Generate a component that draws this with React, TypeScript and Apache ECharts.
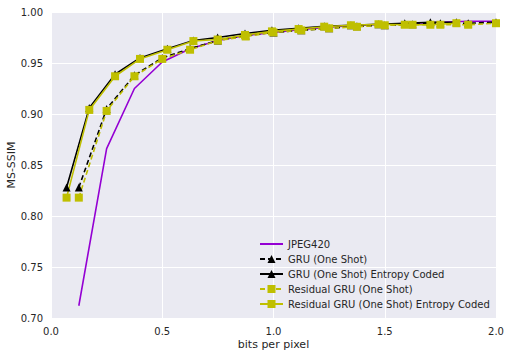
import React, { useEffect, useRef } from "react";
import * as echarts from "echarts";

const xTicks = [0.0, 0.5, 1.0, 1.5, 2.0];
const yTicks = [0.7, 0.75, 0.8, 0.85, 0.9, 0.95, 1.0];

const seriesNames = [
  "JPEG420",
  "GRU (One Shot)",
  "GRU (One Shot) Entropy Coded",
  "Residual GRU (One Shot)",
  "Residual GRU (One Shot) Entropy Coded",
];

const oneShotBpp = [0.125, 0.25, 0.375, 0.5, 0.625, 0.75, 0.875, 1.0, 1.125, 1.25, 1.375, 1.5, 1.625, 1.75, 1.875, 2.0];
const entropyBpp = [0.07, 0.172, 0.288, 0.4, 0.523, 0.64, 0.749, 0.872, 0.993, 1.113, 1.228, 1.348, 1.472, 1.59, 1.705, 1.822];

const jpegY = [0.712, 0.866, 0.925, 0.951, 0.964, 0.972, 0.977, 0.980, 0.983, 0.985, 0.987, 0.988, 0.989, 0.990, 0.991, 0.991];
const gruY = [0.828, 0.905, 0.938, 0.955, 0.964, 0.972, 0.977, 0.980, 0.982, 0.984, 0.986, 0.987, 0.988, 0.989, 0.989, 0.990];
const gruEcY = [0.828, 0.906, 0.939, 0.955, 0.964, 0.972, 0.975, 0.979, 0.982, 0.984, 0.986, 0.987, 0.988, 0.989, 0.990, 0.990];
const resY = [0.818, 0.903, 0.937, 0.954, 0.963, 0.972, 0.976, 0.980, 0.982, 0.984, 0.9855, 0.987, 0.9875, 0.9875, 0.9875, 0.989];
const resEcY = [0.818, 0.904, 0.937, 0.954, 0.963, 0.9715, 0.973, 0.9775, 0.981, 0.9833, 0.9856, 0.987, 0.988, 0.9875, 0.9875, 0.989];

const pairs = (xs: number[], ys: number[]) => ys.map((y, i) => [xs[i], y]);

export default function App() {
  const ref = useRef<HTMLDivElement>(null);
  useEffect(() => {
    if (!ref.current) return;
    const chart = echarts.init(ref.current, null, { renderer: "svg" });
    const font = "DejaVu Sans";
    const textColor = "#262626";
    const yellow = "#bfbf00";
    const purple = "#9400d3";
    chart.setOption({
      animation: false,
      textStyle: { fontFamily: font },
      grid: {
        left: 51,
        right: 14,
        top: 12,
        bottom: 40,
        show: true,
        backgroundColor: "#eaeaf2",
        borderWidth: 0,
        containLabel: false,
        outerBoundsMode: "none",
      },
      xAxis: {
        type: "value",
        min: 0,
        max: 2,
        interval: 0.5,
        name: "bits per pixel",
        nameLocation: "middle",
        nameGap: 21,
        nameMoveOverlap: false,
        nameTextStyle: { fontSize: 11, color: textColor, fontFamily: font },
        axisLine: { show: false },
        axisTick: { show: false },
        axisLabel: {
          color: textColor,
          fontSize: 10,
          fontFamily: font,
          margin: 8,
          formatter: (v: number) => (xTicks.includes(v) ? v.toFixed(1) : ""),
        },
        splitLine: { show: true, lineStyle: { color: "#ffffff", width: 1 } },
      },
      yAxis: {
        type: "value",
        min: 0.7,
        max: 1.0,
        interval: 0.05,
        name: "MS-SSIM",
        nameLocation: "middle",
        nameGap: 34,
        nameMoveOverlap: false,
        nameTextStyle: { fontSize: 11, color: textColor, fontFamily: font },
        axisLine: { show: false },
        axisTick: { show: false },
        axisLabel: {
          color: textColor,
          fontSize: 10,
          fontFamily: font,
          margin: 8,
          formatter: (v: number) => (yTicks.some((t) => Math.abs(t - v) < 1e-9) ? v.toFixed(2) : ""),
        },
        splitLine: { show: true, lineStyle: { color: "#ffffff", width: 1 } },
      },
      legend: {
        orient: "vertical",
        left: 259,
        top: 239,
        padding: 0,
        itemWidth: 23,
        itemHeight: 10,
        itemGap: 5,
        textStyle: { fontSize: 10, color: textColor, fontFamily: font },
        data: [
          { name: seriesNames[0], itemStyle: { color: "rgba(0,0,0,0)", borderWidth: 0 } },
          seriesNames[1],
          seriesNames[2],
          seriesNames[3],
          seriesNames[4],
        ],
      },
      series: [
        {
          name: seriesNames[0],
          type: "line",
          data: pairs(oneShotBpp, jpegY),
          showSymbol: false,
          symbol: "none",
          lineStyle: { color: purple, width: 1.6 },
          itemStyle: { color: purple },
        },
        {
          name: seriesNames[1],
          type: "line",
          data: pairs(oneShotBpp, gruY),
          symbol: "triangle",
          symbolSize: 8,
          lineStyle: { color: "#000000", width: 1.6, type: [5, 3] },
          itemStyle: { color: "#000000" },
        },
        {
          name: seriesNames[2],
          type: "line",
          data: pairs(entropyBpp, gruEcY),
          symbol: "triangle",
          symbolSize: 8,
          lineStyle: { color: "#000000", width: 1.6 },
          itemStyle: { color: "#000000" },
        },
        {
          name: seriesNames[3],
          type: "line",
          data: pairs(oneShotBpp, resY),
          symbol: "rect",
          symbolSize: 8,
          lineStyle: { color: yellow, width: 1.6, type: [5, 3] },
          itemStyle: { color: yellow },
        },
        {
          name: seriesNames[4],
          type: "line",
          data: pairs(entropyBpp, resEcY),
          symbol: "rect",
          symbolSize: 8,
          lineStyle: { color: yellow, width: 1.6 },
          itemStyle: { color: yellow },
        },
      ],
    });
    return () => chart.dispose();
  }, []);
  return (
    <div
      ref={ref}
      style={{ position: "fixed", left: 0, top: 0, width: 510, height: 358, background: "#ffffff" }}
    />
  );
}
